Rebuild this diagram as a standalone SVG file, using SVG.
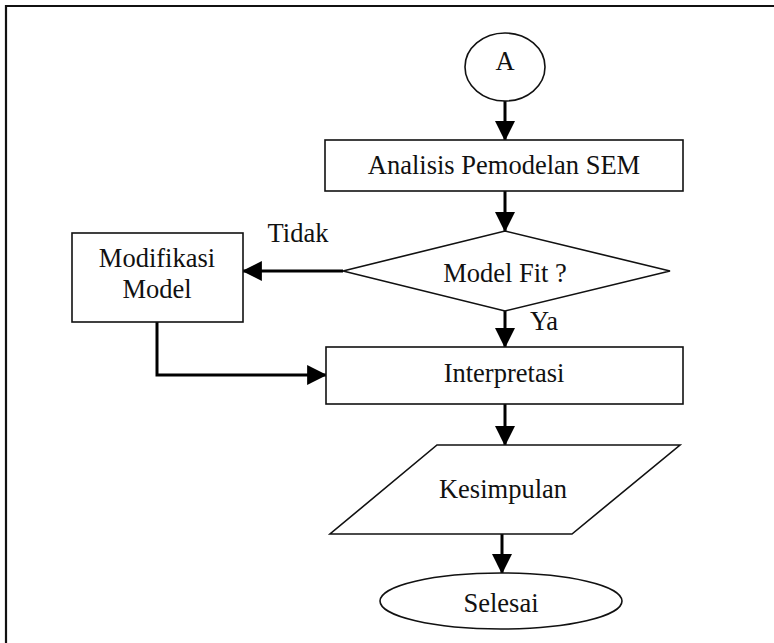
<svg xmlns="http://www.w3.org/2000/svg" width="774" height="643" viewBox="0 0 774 643">
  <style>
    .shape { fill: #fff; stroke: #111; stroke-width: 1.6; }
    .label { font-family: "Liberation Serif", "Times New Roman", serif; font-size: 26.5px; fill: #111; text-anchor: middle; }
    .edge { fill: none; stroke: #000; stroke-width: 3; }
    .frame { fill: none; stroke: #111; stroke-width: 2.2; }
  </style>
  <defs>
    <marker id="arrow" markerUnits="userSpaceOnUse" markerWidth="20" markerHeight="20" viewBox="0 0 18 18" refX="17" refY="9" orient="auto">
      <path d="M0,0 L18,9 L0,18 Z" fill="#000"/>
    </marker>
  </defs>

  <rect width="774" height="643" fill="#fff"/>
  <!-- page frame -->
  <path class="frame" d="M6,650 V6 H780"/>

  <g id="connectors">
    <line class="edge" x1="505" y1="101" x2="505" y2="140" marker-end="url(#arrow)"/>
    <line class="edge" x1="505" y1="191" x2="505" y2="231" marker-end="url(#arrow)"/>
    <line class="edge" x1="343" y1="271" x2="243" y2="271" marker-end="url(#arrow)"/>
    <line class="edge" x1="505" y1="311" x2="505" y2="347" marker-end="url(#arrow)"/>
    <polyline class="edge" points="157,322 157,375 326,375" marker-end="url(#arrow)"/>
    <line class="edge" x1="505" y1="404" x2="505" y2="445" marker-end="url(#arrow)"/>
    <line class="edge" x1="502" y1="534" x2="502" y2="573" marker-end="url(#arrow)"/>
    <text class="label" x="298" y="242">Tidak</text>
    <text class="label" x="544" y="330">Ya</text>
  </g>

  <g id="start">
    <ellipse class="shape" cx="505" cy="67" rx="40" ry="34"/>
    <text class="label" x="505" y="70">A</text>
  </g>

  <g id="analisis">
    <rect class="shape" x="325" y="140" width="358" height="51"/>
    <text class="label" x="504" y="174">Analisis Pemodelan SEM</text>
  </g>

  <g id="decision">
    <polygon class="shape" points="505,231 670,271 505,311 343,271"/>
    <text class="label" x="505" y="282">Model Fit ?</text>
  </g>

  <g id="modifikasi">
    <rect class="shape" x="72" y="233" width="171" height="89"/>
    <text class="label" x="157" y="267">Modifikasi</text>
    <text class="label" x="157" y="298">Model</text>
  </g>

  <g id="interpretasi">
    <rect class="shape" x="326" y="347" width="357" height="57"/>
    <text class="label" x="504" y="382">Interpretasi</text>
  </g>

  <g id="kesimpulan">
    <polygon class="shape" points="437,445 680,445 572,534 330,534"/>
    <text class="label" x="503" y="498">Kesimpulan</text>
  </g>

  <g id="selesai">
    <ellipse class="shape" cx="501" cy="601" rx="121" ry="28"/>
    <text class="label" x="501" y="612">Selesai</text>
  </g>
</svg>
